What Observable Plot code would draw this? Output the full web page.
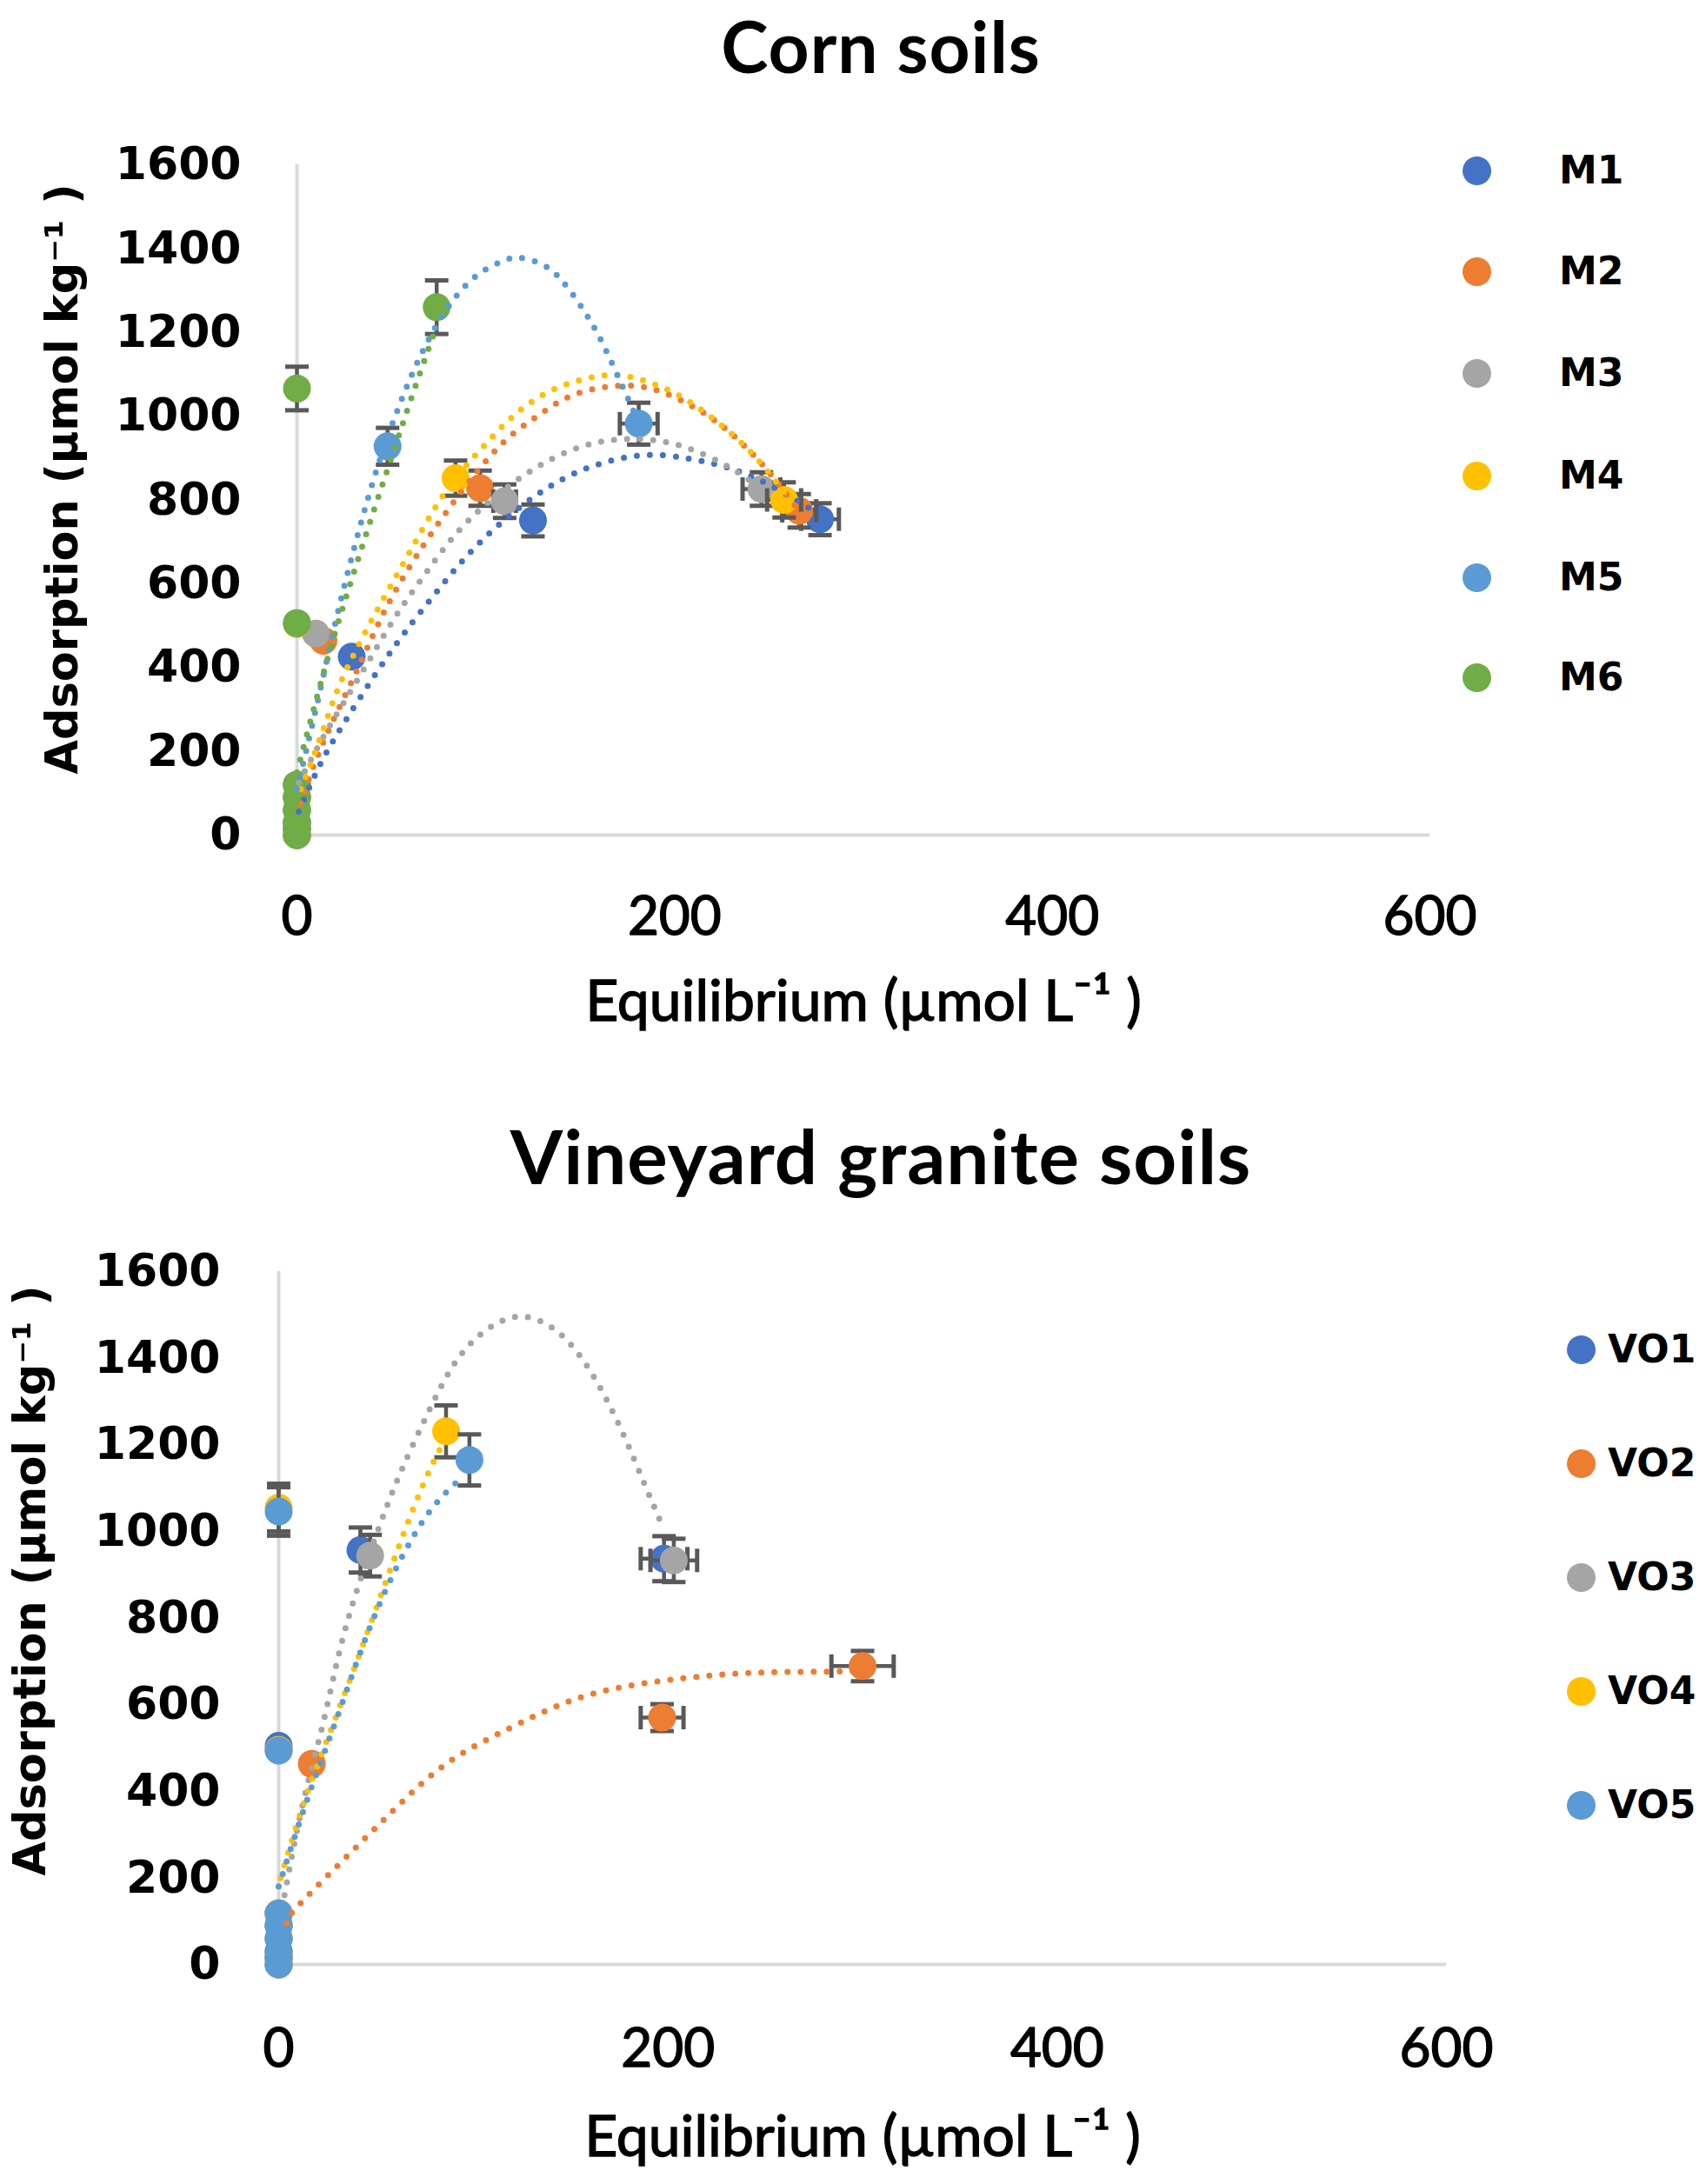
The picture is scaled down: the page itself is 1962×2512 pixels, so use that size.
<!DOCTYPE html>
<html><head><meta charset="utf-8">
<script src="https://cdn.jsdelivr.net/npm/d3@7"></script>
<script src="https://cdn.jsdelivr.net/npm/@observablehq/plot@0.6"></script>
<style>
html,body{margin:0;padding:0;background:#fff;}
#page{position:relative;width:1962px;height:2512px;overflow:hidden;background:#fff;color:#000;}
.title{position:absolute;left:0;width:2026px;text-align:center;font-family:Lato,sans-serif;font-weight:700;white-space:nowrap;letter-spacing:1px;}
.plot{position:absolute;left:0;}
.lg-dot{position:absolute;width:33px;height:33px;border-radius:50%;}
.lg-txt{position:absolute;height:50px;line-height:50px;font-family:"DejaVu Sans",sans-serif;font-weight:700;font-size:44px;white-space:nowrap;}
g[aria-label="y-axis tick label"]{font-family:"DejaVu Sans",sans-serif;font-weight:700;font-size:52px;}
g[aria-label="x-axis tick label"]{font-family:Lato,sans-serif;font-weight:400;font-size:62px;stroke:#000;stroke-width:1.4px;}
g[aria-label="y-axis label"]{font-family:"DejaVu Sans",sans-serif;font-weight:700;font-size:51px;}
g[aria-label="x-axis label"]{font-family:Lato,sans-serif;font-weight:400;font-size:66px;stroke:#000;stroke-width:1.4px;}
</style>
</head><body>
<div id="page"></div>
<script>
// ---------- shared axes ----------
const xTicks = [0, 200, 400, 600];
const yTicks = [0, 200, 400, 600, 800, 1000, 1200, 1400, 1600];
const xLabel = "Equilibrium (µmol L⁻¹ )";
const yLabel = "Adsorption (µmol kg⁻¹ )";

// ---------- Corn soils ----------
const cornTitle = "Corn soils";
const cornSeries = ["M1", "M2", "M3", "M4", "M5", "M6"];
const cornColors = ["#4472C4", "#ED7D31", "#A5A5A5", "#FFC000", "#5B9BD5", "#70AD47"];
const cornLow = [0, 15, 30, 60, 90, 120]; // points at equilibrium 0
// [equilibrium, adsorption, y error, x error]
const M1_pts = [[29, 426, 0, 0], [125, 751, 38, 0], [277, 754, 38, 10]];
const M2_pts = [[14, 464, 0, 0], [97, 828, 42, 0], [266, 774, 40, 9]];
const M3_pts = [[10, 481, 0, 0], [110, 797, 40, 6], [246, 826, 40, 10]];
const M4_pts = [[0, 504, 0, 0], [84, 852, 42, 0], [258, 800, 42, 9]];
const M5_pts = [[0, 506, 0, 0], [48, 928, 44, 0], [181, 982, 50, 10]];
const M6_pts = [[0, 506, 0, 0], [0, 1066, 52, 0], [74, 1260, 64, 0]];
// trend lines
const M1_trend = [[1, 56], [12, 166], [25, 268], [41, 380], [57, 483], [76, 592], [97, 699], [126, 809], [155, 878], [184, 907], [208, 898], [229, 876], [250, 836], [272, 778]];
const M2_trend = [[2, 75], [8, 155], [18, 262], [33, 405], [47, 540], [70, 712], [103, 908], [126, 996], [146, 1050], [169, 1072], [188, 1065], [208, 1027], [229, 962], [250, 866], [266, 772]];
const M3_trend = [[1, 125], [16, 250], [34, 385], [52, 520], [69, 630], [90, 747], [120, 858], [146, 920], [167, 943], [188, 943], [208, 922], [229, 878], [246, 826]];
const M4_trend = [[2, 110], [12, 228], [22, 352], [35, 474], [49, 590], [60, 678], [78, 815], [97, 919], [115, 1002], [136, 1064], [159, 1095], [178, 1092], [200, 1055], [221, 992], [238, 925], [250, 865], [258, 818]];
const M5_trend = [[0, 110], [10, 300], [20, 500], [30, 680], [40, 840], [50, 975], [60, 1090], [70, 1185], [80, 1260], [90, 1315], [100, 1350], [110, 1372], [118, 1378], [130, 1362], [140, 1325], [150, 1265], [160, 1190], [170, 1095], [181, 985]];
const M6_trend = [[0, 150], [10, 320], [20, 480], [30, 625], [40, 765], [50, 900], [60, 1035], [70, 1165], [74, 1215]];

// ---------- Vineyard granite soils ----------
const vineTitle = "Vineyard granite soils";
const vineSeries = ["VO1", "VO2", "VO3", "VO4", "VO5"];
const vineColors = ["#4472C4", "#ED7D31", "#A5A5A5", "#FFC000", "#5B9BD5"];
const vineLow = [0, 15, 30, 60, 90, 118];
const VO1_pts = [[0, 505, 0, 0], [42, 957, 52, 0], [198, 937, 52, 12]];
const VO2_pts = [[17, 463, 0, 0], [197, 570, 31, 11], [300, 689, 35, 16]];
const VO3_pts = [[0, 495, 0, 0], [47, 944, 48, 0], [203, 933, 50, 12]];
const VO4_pts = [[0, 496, 0, 0], [0, 1055, 55, 0], [86, 1231, 60, 0]];
const VO5_pts = [[0, 494, 0, 0], [0, 1046, 56, 0], [98, 1165, 59, 0]];
const VO1_trend = [];
const VO2_trend = [[4, 95], [7, 121], [30, 227], [58, 352], [86, 463], [117, 542], [147, 604], [177, 641], [212, 663], [247, 674], [279, 676], [300, 678]];
const VO3_trend = [[3, 160], [12, 363], [22, 542], [30, 699], [39, 847], [52, 1015], [63, 1140], [76, 1267], [89, 1378], [104, 1456], [125, 1496], [147, 1446], [164, 1341], [177, 1225], [188, 1109], [198, 1004]];
const VO4_trend = [[1, 200], [12, 360], [25, 520], [41, 710], [58, 920], [73, 1095], [84, 1200]];
const VO5_trend = [[0, 180], [15, 385], [30, 570], [47, 780], [65, 955], [80, 1060], [93, 1120]];

// ---------- build tables ----------
function buildPoints(series, ptsList, low) {
  const out = [];
  series.forEach((s, i) => {
    low.forEach(v => out.push({series: s, x: 0, y: v, ey: 0, ex: 0}));
    ptsList[i].forEach(([x, y, ey, ex]) => out.push({series: s, x, y, ey, ex}));
  });
  return out;
}
function buildTrends(series, trendList) {
  const out = [];
  series.forEach((s, i) => trendList[i].forEach(([x, y]) => out.push({series: s, x, y})));
  return out;
}

const cornPoints = buildPoints(cornSeries, [M1_pts, M2_pts, M3_pts, M4_pts, M5_pts, M6_pts], cornLow);
const cornTrends = buildTrends(cornSeries, [M1_trend, M2_trend, M3_trend, M4_trend, M5_trend, M6_trend]);
const vinePoints = buildPoints(vineSeries, [VO1_pts, VO2_pts, VO3_pts, VO4_pts, VO5_pts], vineLow);
const vineTrends = buildTrends(vineSeries, [VO1_trend, VO2_trend, VO3_trend, VO4_trend, VO5_trend]);

// error-bar cap symbols (line segments)
const capH = {draw(ctx, size) { const r = Math.sqrt(size / Math.PI); ctx.moveTo(-r, 0); ctx.lineTo(r, 0); }};
const capV = {draw(ctx, size) { const r = Math.sqrt(size / Math.PI); ctx.moveTo(0, -r); ctx.lineTo(0, r); }};
const errColor = "#595959";

function makeChart(cfg) {
  const marks = [
    Plot.ruleY([0], {stroke: "#d9d9d9", strokeWidth: 4}),
    Plot.ruleX([0], {stroke: "#d9d9d9", strokeWidth: 4}),
    Plot.axisX({ticks: xTicks, tickSize: 0, tickPadding: cfg.xPad, tickFormat: d => String(d),
      label: xLabel, labelAnchor: "center", labelOffset: cfg.xLabelOffset, labelArrow: "none"}),
    Plot.axisY({ticks: yTicks, tickSize: 0, tickPadding: cfg.yPad, tickFormat: d => String(d),
      label: yLabel, labelAnchor: "center", labelOffset: cfg.yLabelOffset, labelArrow: "none"})
  ];
  cfg.series.forEach(s => {
    const ptsS = cfg.points.filter(d => d.series === s);
    const ey = ptsS.filter(d => d.ey > 0);
    const ex = ptsS.filter(d => d.ex > 0);
    marks.push(Plot.link(ey, {x1: "x", x2: "x", y1: d => d.y - d.ey, y2: d => d.y + d.ey,
      stroke: errColor, strokeWidth: 4.5}));
    marks.push(Plot.dot(ey, {x: "x", y: d => d.y - d.ey, symbol: capH, r: 13.5, stroke: errColor, fill: "none", strokeWidth: 5}));
    marks.push(Plot.dot(ey, {x: "x", y: d => d.y + d.ey, symbol: capH, r: 13.5, stroke: errColor, fill: "none", strokeWidth: 5}));
    marks.push(Plot.link(ex, {y1: "y", y2: "y", x1: d => d.x - d.ex, x2: d => d.x + d.ex,
      stroke: errColor, strokeWidth: 4.5}));
    marks.push(Plot.dot(ex, {x: d => d.x - d.ex, y: "y", symbol: capV, r: 13.5, stroke: errColor, fill: "none", strokeWidth: 5}));
    marks.push(Plot.dot(ex, {x: d => d.x + d.ex, y: "y", symbol: capV, r: 13.5, stroke: errColor, fill: "none", strokeWidth: 5}));
    marks.push(Plot.dot(ptsS, {x: "x", y: "y", r: 16, fill: "series"}));
  });
  marks.push(Plot.line(cfg.trends, {x: "x", y: "y", z: "series", stroke: "series", strokeWidth: 7,
    strokeDasharray: "0 15", strokeLinecap: "round", curve: "natural"}));
  const svg = Plot.plot({
    width: 1962, height: cfg.height,
    marginLeft: cfg.ml, marginRight: cfg.mr, marginTop: cfg.mt, marginBottom: cfg.mb,
    style: {background: "transparent", overflow: "visible", color: "#000"},
    x: {domain: [0, 600]},
    y: {domain: [0, 1600]},
    color: {domain: cfg.series, range: cfg.colors},
    marks
  });
  // nudge the y-axis title up a little, as in the reference
  d3.select(svg).selectAll('g[aria-label="y-axis label"]').each(function () {
    const g = d3.select(this);
    const t = g.attr("transform") || "";
    g.attr("transform", `translate(0,${cfg.yLabelShift}) ${t}`);
  });
  return svg;
}

const page = document.getElementById("page");

function addTitle(text, top, size) {
  const t = document.createElement("div");
  t.className = "title"; t.textContent = text;
  t.style.top = top + "px"; t.style.fontSize = size + "px"; t.style.lineHeight = Math.round(size * 1.22) + "px";
  page.appendChild(t);
}
function addPlot(svg, top) {
  const d = document.createElement("div");
  d.className = "plot"; d.style.top = top + "px";
  d.appendChild(svg); page.appendChild(d);
}
function addLegend(series, colors, dotX, txtX, ys) {
  series.forEach((s, i) => {
    const dot = document.createElement("div");
    dot.className = "lg-dot"; dot.style.background = colors[i];
    dot.style.left = (dotX - 16.5) + "px"; dot.style.top = (ys[i] - 16.5) + "px";
    page.appendChild(dot);
    const tx = document.createElement("div");
    tx.className = "lg-txt"; tx.textContent = s;
    tx.style.left = txtX + "px"; tx.style.top = (ys[i] - 25) + "px";
    page.appendChild(tx);
  });
}

// Corn soils chart
addTitle(cornTitle, 2, 82);
addPlot(makeChart({series: cornSeries, colors: cornColors, points: cornPoints, trends: cornTrends,
  height: 1100, ml: 341, mr: 318, mt: 69, mb: 260, xPad: 70, yPad: 64, xLabelOffset: 213, yLabelOffset: 289, yLabelShift: -24}), 120);
addLegend(cornSeries, cornColors, 1698, 1793, [196, 312, 429, 547, 664, 779]);

// Vineyard chart
addTitle(vineTitle, 1276, 87);
addPlot(makeChart({series: vineSeries, colors: vineColors, points: vinePoints, trends: vineTrends,
  height: 1112, ml: 320, mr: 299, mt: 62, mb: 253, xPad: 73, yPad: 67, xLabelOffset: 220, yLabelOffset: 305, yLabelShift: -43}), 1400);
addLegend(vineSeries, vineColors, 1818, 1849, [1552, 1683, 1814, 1945, 2076]);
</script>
</body></html>
